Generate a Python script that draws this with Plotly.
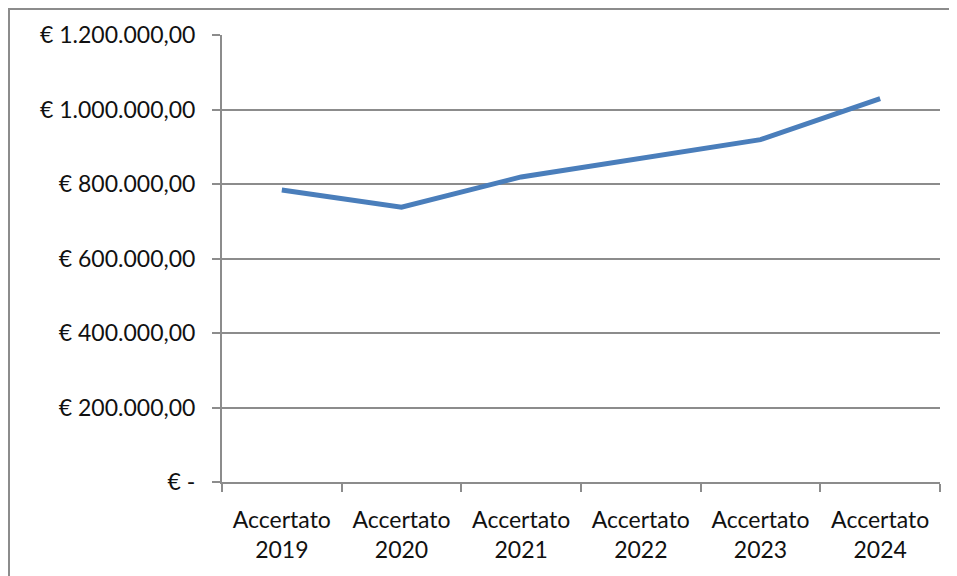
import plotly.graph_objects as go

categories = ["Accertato<br>2019", "Accertato<br>2020", "Accertato<br>2021",
              "Accertato<br>2022", "Accertato<br>2023", "Accertato<br>2024"]
values = [784000, 738000, 819000, 870000, 919000, 1029000]
y_tickvals = [0, 200000, 400000, 600000, 800000, 1000000, 1200000]
y_ticktext = ["€ -", "€ 200.000,00", "€ 400.000,00", "€ 600.000,00",
              "€ 800.000,00", "€ 1.000.000,00", "€ 1.200.000,00"]

fig = go.Figure()
fig.add_trace(go.Scatter(x=categories, y=values, mode="lines",
                         line=dict(color="#4A7EBB", width=5)))

# page body has an 8px offset; compensate
L, T = 214, 27
W, H = 957, 576
R = W - 932
B = H - 474
pw, ph = W - L - R, H - T - B

fig.update_layout(
    width=W, height=H,
    margin=dict(l=L, r=R, t=T, b=B),
    paper_bgcolor="white", plot_bgcolor="white",
    showlegend=False,
    font=dict(family="Lato, Open Sans, sans-serif", size=23, color="#111111"),
    xaxis=dict(type="category", showgrid=False, showline=True, linecolor="#8c8c8c",
               linewidth=2, ticks="outside", tickson="boundaries", ticklen=8,
               tickcolor="#8c8c8c", tickwidth=2, range=[-0.5, 5.5],
               ticklabelstandoff=16),
    yaxis=dict(range=[0, 1200000], tickvals=y_tickvals, ticktext=y_ticktext,
               showgrid=True, gridcolor="#8c8c8c", gridwidth=2,
               showline=True, linecolor="#8c8c8c", linewidth=2,
               ticks="outside", ticklen=8, tickcolor="#8c8c8c", tickwidth=2,
               zeroline=False, ticklabelstandoff=12),
    shapes=[dict(type="rect", xref="paper", yref="paper",
                 x0=(1 - L) / pw, x1=(W + 20 - L) / pw,
                 y0=-(H + 20 - (T + ph)) / ph, y1=(T + ph - 1) / ph,
                 line=dict(color="#8c8c8c", width=2), fillcolor="rgba(0,0,0,0)",
                 layer="below")],
)

fig.write_html("out.html")
